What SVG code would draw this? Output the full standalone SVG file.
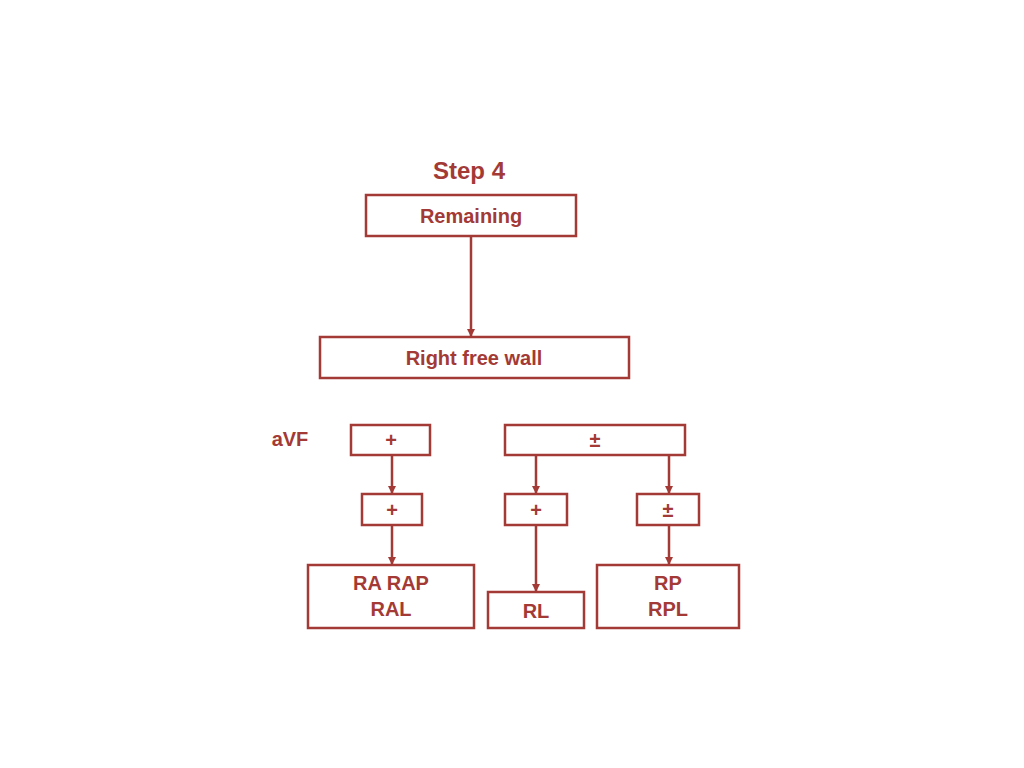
<svg xmlns="http://www.w3.org/2000/svg" width="1024" height="768" viewBox="0 0 1024 768">
<style>
rect.b{fill:#fff;stroke:#a33a36;stroke-width:2.5}
text{font-family:"Liberation Sans",Arial,sans-serif;font-weight:bold;fill:#a33a36;text-anchor:middle}
.c line{stroke:#a33a36;stroke-width:2.5}
</style>
<defs><marker id="a" markerWidth="8" markerHeight="8" refX="7" refY="4" orient="auto" markerUnits="userSpaceOnUse" viewBox="0 0 8 8"><path d="M0,0L8,4L0,8z" fill="#a33a36"/></marker></defs>
<rect width="1024" height="768" fill="#fff"/>
<text x="469" y="179" font-size="24">Step 4</text>
<text x="290" y="446" font-size="20">aVF</text>
<g class="c">
<line x1="471" y1="236" x2="471" y2="336" marker-end="url(#a)"/>
<line x1="392" y1="455" x2="392" y2="493" marker-end="url(#a)"/>
<line x1="536" y1="455" x2="536" y2="493" marker-end="url(#a)"/>
<line x1="669" y1="455" x2="669" y2="493" marker-end="url(#a)"/>
<line x1="392" y1="525" x2="392" y2="564" marker-end="url(#a)"/>
<line x1="536" y1="525" x2="536" y2="591" marker-end="url(#a)"/>
<line x1="669" y1="525" x2="669" y2="564" marker-end="url(#a)"/>
</g>
<g id="remaining"><rect class="b" x="366" y="195" width="210" height="41"/><text x="471" y="223" font-size="20">Remaining</text></g>
<g id="rfw"><rect class="b" x="320" y="337" width="309" height="41"/><text x="474" y="365" font-size="20">Right free wall</text></g>
<g id="p1"><rect class="b" x="351" y="425" width="79" height="30"/><text x="391" y="447" font-size="20">+</text></g>
<g id="pm1"><rect class="b" x="505" y="425" width="180" height="30"/><text x="595" y="447" font-size="20">±</text></g>
<g id="p2"><rect class="b" x="362" y="494" width="60" height="31"/><text x="392" y="517" font-size="20">+</text></g>
<g id="p3"><rect class="b" x="505" y="494" width="62" height="31"/><text x="536" y="517" font-size="20">+</text></g>
<g id="pm2"><rect class="b" x="637" y="494" width="62" height="31"/><text x="668" y="517" font-size="20">±</text></g>
<g id="ra"><rect class="b" x="308" y="565" width="166" height="63"/><text x="391" y="590" font-size="20">RA RAP</text><text x="391" y="616" font-size="20">RAL</text></g>
<g id="rl"><rect class="b" x="488" y="592" width="96" height="36"/><text x="536" y="618" font-size="20">RL</text></g>
<g id="rp"><rect class="b" x="597" y="565" width="142" height="63"/><text x="668" y="590" font-size="20">RP</text><text x="668" y="616" font-size="20">RPL</text></g>
</svg>
